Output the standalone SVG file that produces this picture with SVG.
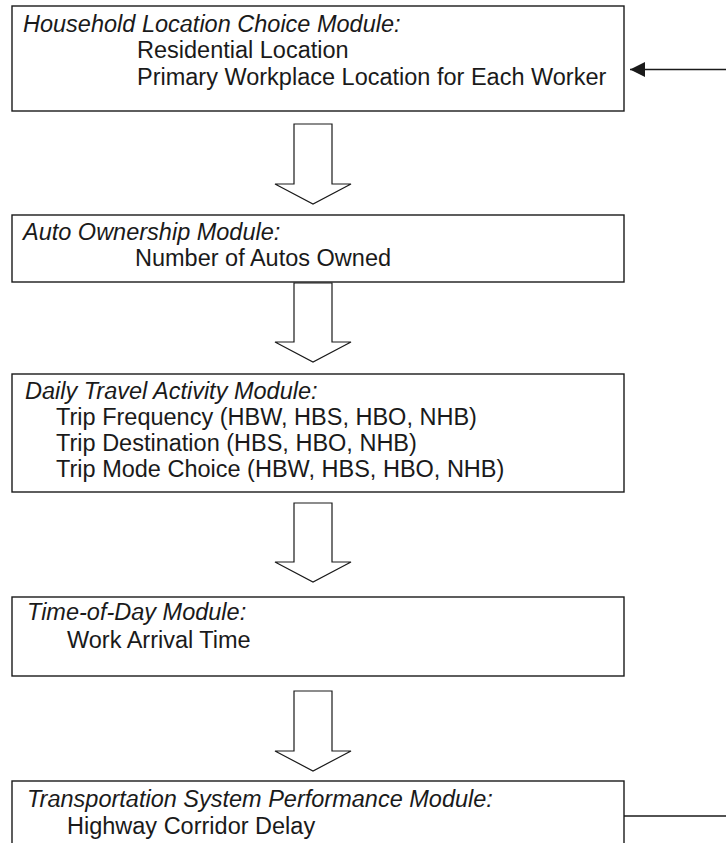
<svg xmlns="http://www.w3.org/2000/svg" width="726" height="843" viewBox="0 0 726 843">
<style>
.box{fill:#fff;stroke:#1a1a1a;stroke-width:1.4}
.blk{fill:#fff;stroke:#1a1a1a;stroke-width:1.2;stroke-linejoin:miter}
.t{font-family:"Liberation Sans",Arial,sans-serif;font-size:23.5px;fill:#1a1a1a}
.i{font-style:italic}
.ln{fill:none;stroke:#1a1a1a;stroke-width:1.4}
</style>
<defs>
<marker id="ah" markerWidth="16" markerHeight="16" refX="15" refY="8" orient="auto" markerUnits="userSpaceOnUse" overflow="visible">
<path d="M0,0.5 L15,8 L0,15.5 Z" fill="#1a1a1a"/>
</marker>
</defs>
<rect width="726" height="843" fill="#fff"/>
<g id="n1">
<rect class="box" x="12" y="6" width="612" height="105"/>
<text class="t i" x="23" y="31.5">Household Location Choice Module:</text>
<text class="t" x="137" y="58">Residential Location</text>
<text class="t" x="137" y="85">Primary Workplace Location for Each Worker</text>
</g>
<g id="n2">
<rect class="box" x="12" y="215" width="612" height="67"/>
<text class="t i" x="23" y="240">Auto Ownership Module:</text>
<text class="t" x="135" y="266">Number of Autos Owned</text>
</g>
<g id="n3">
<rect class="box" x="12" y="374" width="612" height="118"/>
<text class="t i" x="25" y="399">Daily Travel Activity Module:</text>
<text class="t" x="56" y="425">Trip Frequency (HBW, HBS, HBO, NHB)</text>
<text class="t" x="56" y="451">Trip Destination (HBS, HBO, NHB)</text>
<text class="t" x="56" y="477">Trip Mode Choice (HBW, HBS, HBO, NHB)</text>
</g>
<g id="n4">
<rect class="box" x="12" y="597" width="612" height="79"/>
<text class="t i" x="27" y="620">Time-of-Day Module:</text>
<text class="t" x="67" y="648">Work Arrival Time</text>
</g>
<g id="n5">
<rect class="box" x="12" y="781" width="612" height="80"/>
<text class="t i" x="27" y="807">Transportation System Performance Module:</text>
<text class="t" x="67" y="834">Highway Corridor Delay</text>
</g>
<g id="connectors">
<polygon class="blk" points="294,124 332,124 332,184 351,184 313,204 275,184 294,184"/>
<polygon class="blk" points="294,283 332,283 332,342 351,342 313,362 275,342 294,342"/>
<polygon class="blk" points="294,503 332,503 332,562 351,562 313,582 275,562 294,562"/>
<polygon class="blk" points="294,691 332,691 332,751 351,751 313,771 275,751 294,751"/>
<line class="ln" x1="726" y1="69.5" x2="630" y2="69.5" marker-end="url(#ah)"/>
<line class="ln" x1="624" y1="816" x2="726" y2="816"/>
</g>
</svg>
